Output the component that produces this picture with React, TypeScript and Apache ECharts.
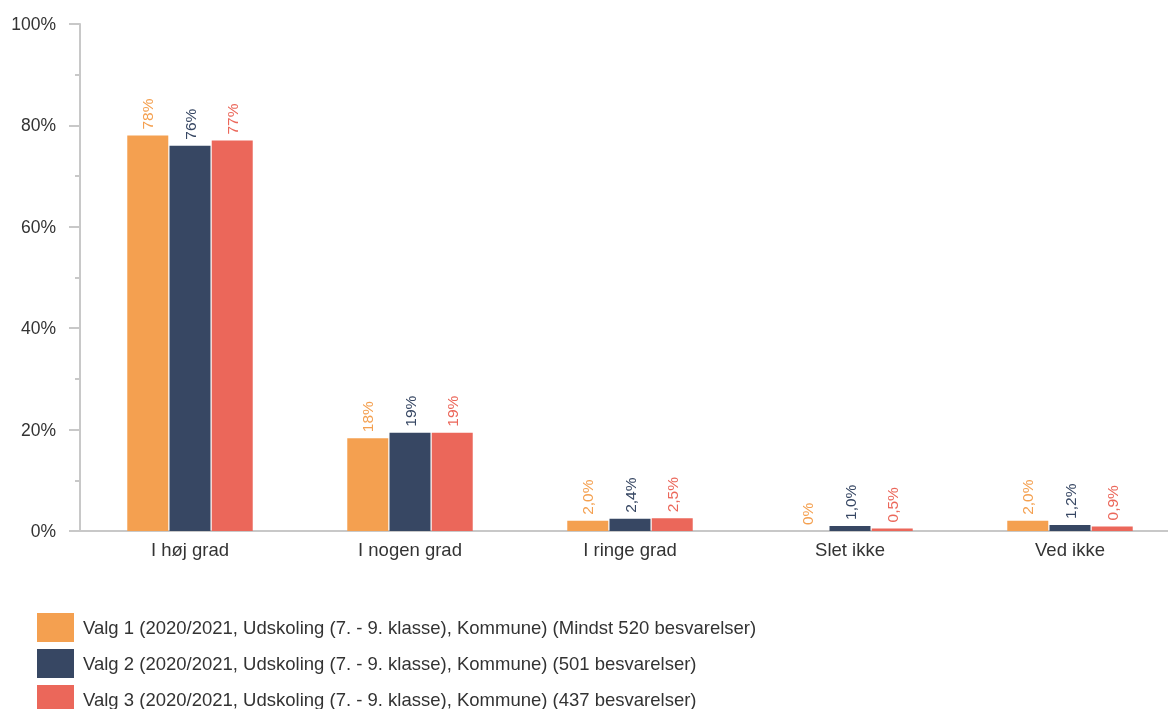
import React, { useEffect, useRef } from "react";
import * as echarts from "echarts";

const categories = ["I høj grad", "I nogen grad", "I ringe grad", "Slet ikke", "Ved ikke"];
const seriesNames = [
  "Valg 1 (2020/2021, Udskoling (7. - 9. klasse), Kommune) (Mindst 520 besvarelser)",
  "Valg 2 (2020/2021, Udskoling (7. - 9. klasse), Kommune) (501 besvarelser)",
  "Valg 3 (2020/2021, Udskoling (7. - 9. klasse), Kommune) (437 besvarelser)",
];
const valg1 = [78, 18.3, 2.0, 0, 2.0];
const valg2 = [76, 19.4, 2.4, 1.0, 1.2];
const valg3 = [77, 19.4, 2.5, 0.5, 0.9];
const colors = ["#F4A050", "#374763", "#EB675A"];
const yTicks = [0, 20, 40, 60, 80, 100];

const fmt = (v: number) => {
  if (v === 0) return "0%";
  if (v >= 10) return Math.round(v) + "%";
  return v.toFixed(1).replace(".", ",") + "%";
};

export default function App() {
  const ref = useRef<HTMLDivElement>(null);
  useEffect(() => {
    const chart = echarts.init(ref.current!, null, { renderer: "svg" });
    const font = "Liberation Sans, Arial, sans-serif";
    const data = [valg1, valg2, valg3];
    chart.setOption({
      animation: false,
      textStyle: { fontFamily: font },
      grid: { left: 80, width: 1100, top: 24, bottom: 178, containLabel: false, outerBoundsMode: "none" },
      legend: {
        orient: "vertical",
        left: 32,
        top: 608,
        height: 130,
        itemWidth: 37,
        itemHeight: 29,
        itemGap: 7,
        icon: "rect",
        selectedMode: false,
        textStyle: { fontSize: 18.5, color: "#333", fontFamily: font, padding: [0, 0, 0, 4] },
        data: seriesNames,
      },
      xAxis: {
        type: "category",
        data: categories,
        axisLine: { lineStyle: { color: "#c8c8c8", width: 2 } },
        axisTick: { show: false },
        axisLabel: { fontSize: 18.5, color: "#333", margin: 9, fontFamily: font },
      },
      yAxis: {
        type: "value",
        min: yTicks[0],
        max: yTicks[yTicks.length - 1],
        interval: 20,
        axisLine: { show: true, lineStyle: { color: "#c8c8c8", width: 2 } },
        axisTick: { show: true, length: 11, lineStyle: { color: "#c8c8c8", width: 2 } },
        minorTick: { show: true, splitNumber: 2, length: 5, lineStyle: { color: "#c8c8c8", width: 2 } },
        splitLine: { show: false },
        axisLabel: { fontSize: 17.5, color: "#333", margin: 24, formatter: (v: number) => v + "%", fontFamily: font },
      },
      series: data.map((d, i) => ({
        name: seriesNames[i],
        type: "bar",
        data: d,
        barWidth: 41,
        barGap: "3%",
        itemStyle: { color: colors[i] },
        label: {
          show: true,
          position: "top",
          rotate: 90,
          align: "left",
          verticalAlign: "middle",
          distance: 6,
          color: colors[i],
          fontSize: 15.5,
          fontFamily: font,
          formatter: (p: any) => fmt(p.value),
        },
      })),
    });
    return () => chart.dispose();
  }, []);
  return <div ref={ref} style={{ position: "fixed", left: 0, top: 0, width: 1168, height: 709 }} />;
}
